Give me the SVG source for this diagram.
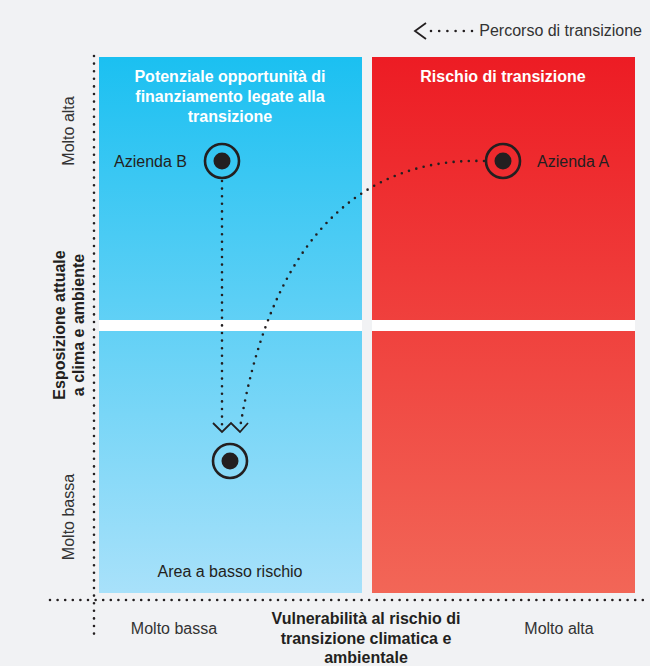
<svg xmlns="http://www.w3.org/2000/svg" width="650" height="666" viewBox="0 0 650 666">
<defs>
<linearGradient id="gBlue" gradientUnits="userSpaceOnUse" x1="0" y1="57" x2="0" y2="593">
<stop offset="0" stop-color="#1bc0f1"/>
<stop offset="1" stop-color="#a8e1fa"/>
</linearGradient>
<linearGradient id="gRed" gradientUnits="userSpaceOnUse" x1="0" y1="57" x2="0" y2="593">
<stop offset="0" stop-color="#ed1c24"/>
<stop offset="1" stop-color="#f26657"/>
</linearGradient>
</defs>
<style>
.dot{fill:none;stroke:#231f20;stroke-width:2.6;stroke-linecap:round;stroke-dasharray:0 7.6}
.chev{fill:none;stroke:#231f20;stroke-width:1.8;stroke-linejoin:miter}
.ring{fill:none;stroke:#231f20;stroke-width:2.6}
.core{fill:#231f20}
.t{font-family:"Liberation Sans",Arial,sans-serif;font-size:16px;fill:#333}
.b{font-family:"Liberation Sans",Arial,sans-serif;font-size:16px;font-weight:bold;fill:#231f20}
.w{font-family:"Liberation Sans",Arial,sans-serif;font-size:16px;font-weight:bold;fill:#fff}
</style>
<rect x="0" y="0" width="650" height="666" fill="#f1f2f4"/>
<g id="quadrants">
<rect x="99" y="57" width="263" height="536" fill="url(#gBlue)"/>
<rect x="372" y="57" width="263" height="536" fill="url(#gRed)"/>
<rect x="99" y="320" width="263" height="11" fill="#ffffff"/>
<rect x="372" y="320" width="263" height="11" fill="#ffffff"/>
</g>
<g id="axes">
<line class="dot" x1="94" y1="56" x2="94" y2="638"/>
<line class="dot" x1="50" y1="600" x2="646" y2="600"/>
</g>
<g id="legend">
<polyline class="chev" points="426,23 415,31 426,39"/>
<line class="dot" x1="431" y1="31" x2="472" y2="31" style="stroke-dasharray:0 8.2"/>
<text class="t" x="642" y="36" text-anchor="end">Percorso di transizione</text>
</g>
<g id="titles">
<text class="w" x="230" y="82" text-anchor="middle">Potenziale opportunità di</text>
<text class="w" x="230" y="102" text-anchor="middle">finanziamento legate alla</text>
<text class="w" x="230" y="122" text-anchor="middle">transizione</text>
<text class="w" x="503" y="82" text-anchor="middle">Rischio di transizione</text>
<text class="t" x="230" y="577" text-anchor="middle" style="fill:#231f20">Area a basso rischio</text>
</g>
<g id="connectors">
<line class="dot" x1="222" y1="181" x2="222" y2="428"/>
<path class="dot" d="M 484 161 C 380 158, 275 215, 240 428"/>
<polyline class="chev" points="213,423 222,432 231,423 240,432 248,423"/>
</g>
<g id="azienda-b">
<circle class="ring" cx="222" cy="161" r="17"/>
<circle class="core" cx="222" cy="161" r="8.5"/>
<text class="t" x="187" y="167" text-anchor="end" style="fill:#231f20">Azienda B</text>
</g>
<g id="azienda-a">
<circle class="ring" cx="503" cy="161" r="17"/>
<circle class="core" cx="503" cy="161" r="8.5"/>
<text class="t" x="537" y="167" style="fill:#231f20">Azienda A</text>
</g>
<g id="target">
<circle class="ring" cx="230" cy="461" r="17"/>
<circle class="core" cx="230" cy="461" r="8.5"/>
</g>
<g id="y-labels">
<text class="t" transform="translate(74,131) rotate(-90)" text-anchor="middle">Molto alta</text>
<text class="t" transform="translate(74,517) rotate(-90)" text-anchor="middle">Molto bassa</text>
<text class="b" transform="translate(65,325) rotate(-90)" text-anchor="middle">Esposizione attuale</text>
<text class="b" transform="translate(84,325) rotate(-90)" text-anchor="middle">a clima e ambiente</text>
</g>
<g id="x-labels">
<text class="t" x="174" y="634" text-anchor="middle">Molto bassa</text>
<text class="t" x="559" y="634" text-anchor="middle">Molto alta</text>
<text class="b" x="366" y="624" text-anchor="middle">Vulnerabilità al rischio di</text>
<text class="b" x="366" y="644" text-anchor="middle">transizione climatica e</text>
<text class="b" x="366" y="663" text-anchor="middle">ambientale</text>
</g>
</svg>
